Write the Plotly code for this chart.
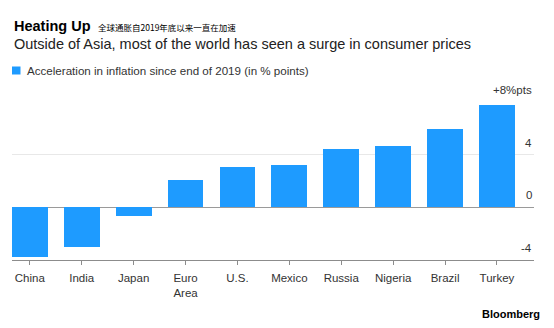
import plotly.graph_objects as go

# Data
countries = ["China", "India", "Japan", "Euro<br>Area", "U.S.", "Mexico",
             "Russia", "Nigeria", "Brazil", "Turkey"]
acceleration = [-3.8, -3.05, -0.65, 2.1, 3.1, 3.2, 4.45, 4.65, 5.95, 7.8]
ytick_vals = [-4, 0, 4, 8]
ytick_text = ["-4", "0", "4", "+8%pts"]

BLUE = "#1E9BFF"
W, H = 554, 328
ML, MR, MT, MB = 12, 20, 102, 68
PW, PH = W - ML - MR, H - MT - MB


def px(x):
    return (x - ML) / PW


def py(y):
    return (H - MB - y) / PH


FONT = "Liberation Sans, Arial, Helvetica, sans-serif"

fig = go.Figure(
    go.Bar(
        x=list(range(len(countries))),
        y=acceleration,
        marker=dict(color=BLUE, line=dict(width=0)),
        width=0.69,
        hoverinfo="skip",
    )
)

annotations = []
# y tick labels sit just above their gridlines at the right edge
for v, t in zip(ytick_vals, ytick_text):
    annotations.append(dict(
        x=1, xref="paper", y=v, yref="y", text=t, showarrow=False,
        xanchor="right", yanchor="middle", yshift=12,
        font=dict(family=FONT, size=11.5, color="#333333"),
    ))

annotations += [
    dict(x=px(12), y=py(26.5), xref="paper", yref="paper", text="<b>Heating Up</b>",
         showarrow=False, xanchor="left", yanchor="middle",
         font=dict(family=FONT, size=14.5, color="#000000")),
    dict(x=px(96), y=py(27.5), xref="paper", yref="paper",
         text="全球通胀自2019年底以来一直在加速",
         showarrow=False, xanchor="left", yanchor="middle",
         font=dict(family="Noto Sans CJK SC", size=8.5, color="#000000")),
    dict(x=px(12), y=py(43.5), xref="paper", yref="paper",
         text="Outside of Asia, most of the world has seen a surge in consumer prices",
         showarrow=False, xanchor="left", yanchor="middle",
         font=dict(family=FONT, size=14.5, color="#222222")),
    dict(x=px(24.5), y=py(70), xref="paper", yref="paper",
         text="Acceleration in inflation since end of 2019 (in % points)",
         showarrow=False, xanchor="left", yanchor="middle",
         font=dict(family=FONT, size=11.6, color="#333333")),
    dict(x=px(542), y=py(314), xref="paper", yref="paper", text="<b>Bloomberg</b>",
         showarrow=False, xanchor="right", yanchor="middle",
         font=dict(family=FONT, size=11, color="#000000")),
]

shapes = [
    dict(type="rect", xref="paper", yref="paper",
         x0=px(12), x1=px(20.5), y0=py(74.5), y1=py(66.5),
         fillcolor=BLUE, line=dict(width=0)),
]

fig.update_layout(
    width=W, height=H,
    margin=dict(l=ML, r=MR, t=MT, b=MB),
    paper_bgcolor="white", plot_bgcolor="white",
    showlegend=False,
    bargap=0,
    annotations=annotations,
    shapes=shapes,
    xaxis=dict(
        range=[-0.344, 9.714],
        tickmode="array",
        tickvals=list(range(len(countries))),
        ticktext=countries,
        showgrid=False, zeroline=False,
        showline=True, linecolor="#8c8c8c", linewidth=1,
        ticks="outside", ticklen=4, tickcolor="#8c8c8c", tickwidth=1,
        ticklabelstandoff=3,
        tickfont=dict(family=FONT, size=11.5, color="#333333"),
        fixedrange=True,
    ),
    yaxis=dict(
        range=[-4, 8],
        tickmode="array",
        tickvals=ytick_vals,
        showticklabels=False,
        showgrid=True, gridcolor="#e8e8e8", gridwidth=1,
        zeroline=True, zerolinecolor="#9a9a9a", zerolinewidth=1,
        showline=False,
        fixedrange=True,
    ),
)

fig.write_html("out.html", config={"displayModeBar": False})
